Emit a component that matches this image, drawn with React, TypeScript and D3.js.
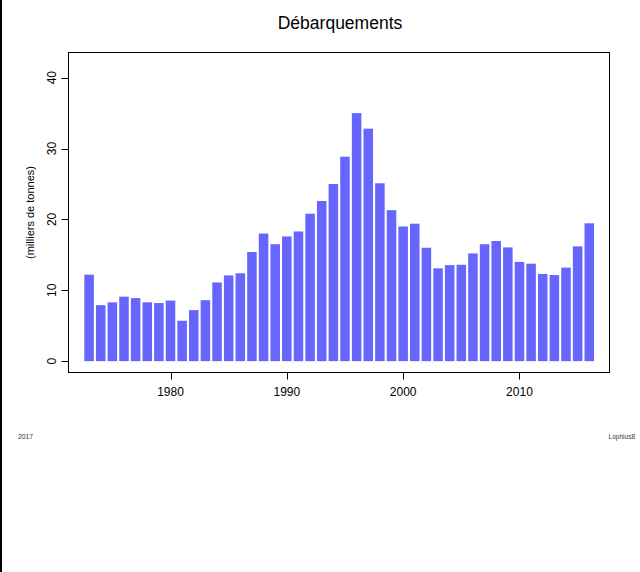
import React from "react";
import * as d3 from "d3";

const years: number[] = [
  1973, 1974, 1975, 1976, 1977, 1978, 1979, 1980, 1981, 1982, 1983, 1984, 1985, 1986, 1987,
  1988, 1989, 1990, 1991, 1992, 1993, 1994, 1995, 1996, 1997, 1998, 1999, 2000, 2001, 2002,
  2003, 2004, 2005, 2006, 2007, 2008, 2009, 2010, 2011, 2012, 2013, 2014, 2015, 2016,
];
const landings: number[] = [
  12.2, 7.9, 8.3, 9.1, 8.9, 8.3, 8.2, 8.55, 5.7, 7.2, 8.6, 11.1, 12.1, 12.4, 15.4,
  18.0, 16.5, 17.6, 18.3, 20.8, 22.6, 25.0, 28.85, 35.0, 32.8, 25.1, 21.3, 19.0, 19.4, 16.0,
  13.1, 13.55, 13.6, 15.2, 16.5, 16.95, 16.05, 14.0, 13.75, 12.3, 12.15, 13.2, 16.2, 19.45,
];
const xTicks: number[] = [1980, 1990, 2000, 2010];
const yTicks: number[] = [0, 10, 20, 30, 40];
const title = "Débarquements";
const yLabel = "(milliers de tonnes)";
const footLeft = "2017";
const footRight = "Lophius8";

const W = 640;
const H = 572;
const box = { left: 68.5, right: 609.5, top: 52.5, bottom: 372.5 };
const font = "'Liberation Sans', Arial, Helvetica, sans-serif";

export default function App() {
  const x = d3.scaleLinear().domain([1971.23, 2017.74]).range([box.left, box.right]);
  const y = d3.scaleLinear().domain([-1.6, 43.55]).range([box.bottom, box.top]);
  const bw = (x(1) - x(0)) * 0.82;

  return (
    <svg
      width={W}
      height={H}
      style={{ position: "absolute", left: 0, top: 0, background: "#fff" }}
      fontFamily={font}
    >
      <rect x={0} y={0} width={W} height={H} fill="#fff" />
      <rect x={0} y={0} width={2} height={H} fill="#000" />
      <text x={(box.left + box.right) / 2 + 1} y={29} textAnchor="middle" fontSize={17.5} fill="#000">
        {title}
      </text>
      {years.map((yr, i) => (
        <rect
          key={yr}
          x={x(yr) - bw / 2}
          y={y(landings[i])}
          width={bw}
          height={y(0) - y(landings[i])}
          fill="#6666ff"
        />
      ))}
      <rect
        x={box.left}
        y={box.top}
        width={box.right - box.left}
        height={box.bottom - box.top}
        fill="none"
        stroke="#000"
        strokeWidth={1}
      />
      {xTicks.map((t) => (
        <g key={t}>
          <line x1={Math.round(x(t)) + 0.5} x2={Math.round(x(t)) + 0.5} y1={box.bottom} y2={box.bottom + 7} stroke="#000" />
          <text x={x(t)} y={396} textAnchor="middle" fontSize={12} fill="#000">
            {t}
          </text>
        </g>
      ))}
      {yTicks.map((t) => (
        <g key={t}>
          <line x1={box.left - 7} x2={box.left} y1={Math.round(y(t)) + 0.5} y2={Math.round(y(t)) + 0.5} stroke="#000" />
          <text
            transform={`translate(55.5,${y(t)}) rotate(-90)`}
            textAnchor="middle"
            fontSize={12}
            fill="#000"
          >
            {t}
          </text>
        </g>
      ))}
      <text
        transform={`translate(34,${(box.top + box.bottom) / 2}) rotate(-90)`}
        textAnchor="middle"
        fontSize={11}
        fill="#000"
      >
        {yLabel}
      </text>
      <text x={18} y={439} fontSize={6.8} fill="#333">
        {footLeft}
      </text>
      <text x={635} y={439} textAnchor="end" fontSize={6.5} fill="#333">
        {footRight}
      </text>
    </svg>
  );
}
